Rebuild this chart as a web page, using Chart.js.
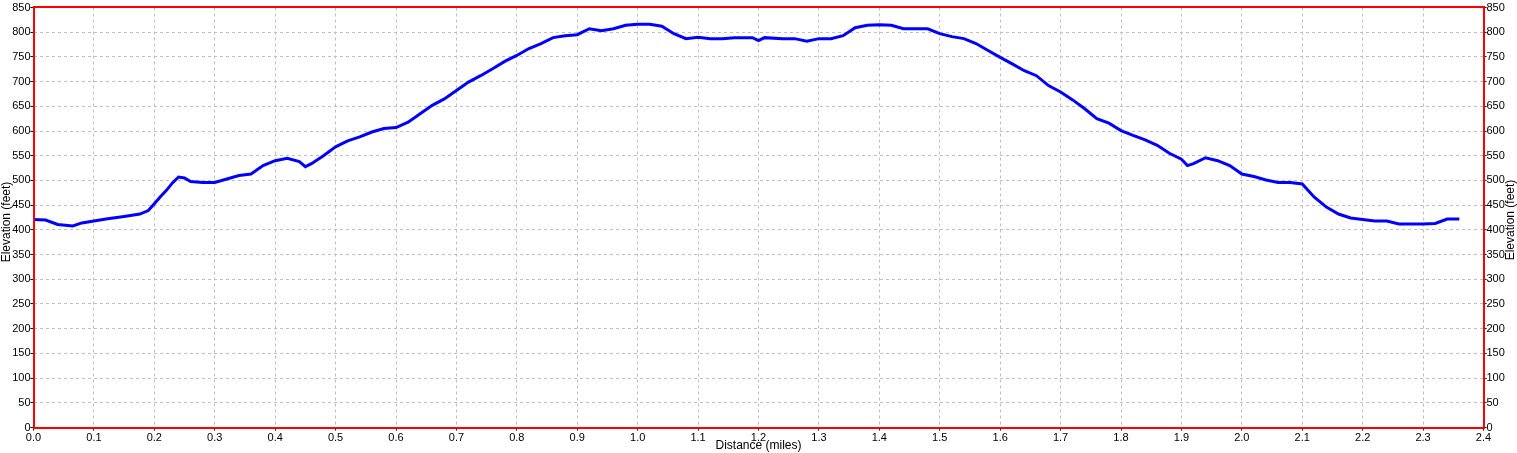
<!DOCTYPE html>
<html>
<head>
<meta charset="utf-8">
<script src="https://cdn.jsdelivr.net/npm/chart.js@4/dist/chart.umd.min.js"></script>
<style>
html,body{margin:0;padding:0;background:#fff;overflow:hidden;}
#wrap{width:1517px;height:453px;position:relative;}
</style>
</head>
<body>
<div id="wrap"><canvas id="c"></canvas></div>
<script>
const distances = [0,0.02,0.04,0.065,0.08,0.10,0.12,0.15,0.176,0.19,0.20,0.21,0.22,0.23,0.24,0.25,0.26,0.28,0.30,0.32,0.34,0.36,0.38,0.40,0.42,0.44,0.45,0.46,0.48,0.50,0.52,0.54,0.56,0.58,0.60,0.62,0.64,0.66,0.68,0.70,0.72,0.74,0.76,0.78,0.80,0.82,0.84,0.86,0.88,0.90,0.92,0.94,0.96,0.98,1.00,1.02,1.04,1.06,1.08,1.10,1.12,1.14,1.16,1.18,1.19,1.20,1.21,1.24,1.26,1.28,1.30,1.32,1.34,1.36,1.38,1.40,1.42,1.44,1.46,1.48,1.50,1.52,1.54,1.56,1.58,1.60,1.62,1.64,1.66,1.68,1.70,1.72,1.74,1.76,1.78,1.80,1.82,1.84,1.86,1.88,1.90,1.91,1.92,1.94,1.96,1.98,2.00,2.02,2.04,2.06,2.08,2.10,2.12,2.14,2.16,2.18,2.20,2.22,2.24,2.26,2.28,2.30,2.32,2.34,2.36];
const elevations = [421,420,411,408,414,418,422,427,432,439,453,467,480,495,507,505,498,496,496,503,510,513,530,540,545,538,528,534,550,568,580,588,598,605,607,618,635,652,665,682,699,712,726,741,753,767,777,789,793,795,807,803,807,814,816,816,812,797,787,790,787,787,789,789,789,783,789,787,787,782,787,787,793,809,814,815,814,807,807,807,797,791,787,777,763,749,736,722,712,692,679,663,645,625,616,601,591,582,571,555,543,530,534,546,540,530,513,508,501,496,496,493,466,446,432,424,421,418,418,412,412,412,413,422,422];
const xTickStep = 0.1, xMin = 0, xMax = 2.4;
const yTickStep = 50, yMin = 0, yMax = 850;
const xTitle = 'Distance (miles)';
const yTitle = 'Elevation (feet)';

const FONT = '"Liberation Sans", Arial, sans-serif';

const framePlugin = {
  id: 'frame',
  afterDraw(chart) {
    const {ctx, chartArea: a} = chart;
    ctx.save();
    ctx.setLineDash([]);
    ctx.strokeStyle = '#ff0000';
    ctx.lineWidth = 2;
    const l = Math.round(a.left), t = Math.floor(a.top), r = Math.round(a.right), b = Math.round(a.bottom);
    ctx.strokeRect(l, t, r - l, b - t);
    ctx.fillStyle = '#000';
    ctx.font = '12px ' + FONT;
    ctx.textAlign = 'center';
    ctx.textBaseline = 'middle';
    [[6.5, 222], [1510.5, 220]].forEach(([x, y]) => {
      ctx.save();
      ctx.translate(x, y);
      ctx.rotate(-Math.PI / 2);
      ctx.fillText(yTitle, 0, 0);
      ctx.restore();
    });
    ctx.restore();
  }
};

const tickFont = {family: FONT, size: 11};
const yScaleBase = {
  type: 'linear', min: yMin, max: yMax,
  ticks: {stepSize: yTickStep, color: '#000', font: tickFont, padding: 0},
  border: {display: false, dash: [3, 3]},
  grid: {color: '#c0c0c0', tickColor: '#000', tickLength: 3, lineWidth: 1, tickBorderDash: []}
};

new Chart(document.getElementById('c'), {
  type: 'line',
  data: {
    datasets: [{
      data: distances.map((d, i) => ({x: d, y: elevations[i]})),
      borderColor: '#0000ff',
      borderWidth: 3,
      pointRadius: 0,
      tension: 0,
      fill: false,
      borderJoinStyle: 'miter'
    }]
  },
  options: {
    responsive: true,
    maintainAspectRatio: false,
    animation: false,
    devicePixelRatio: 1,
    layout: {padding: {top: 7.5, left: 0, right: 0, bottom: 0}},
    plugins: {legend: {display: false}, tooltip: {enabled: false}},
    scales: {
      x: {
        type: 'linear', min: xMin, max: xMax,
        ticks: {stepSize: xTickStep, color: '#000', font: tickFont, padding: 1, maxRotation: 0, autoSkip: false,
          callback: v => Number(v).toFixed(1)},
        border: {display: false, dash: [3, 3]},
        grid: {color: '#c0c0c0', tickColor: '#000', tickLength: 3, lineWidth: 1, tickBorderDash: []},
        title: {display: true, text: xTitle, color: '#000', font: {family: FONT, size: 12, lineHeight: 1.2}, padding: 0},
        afterFit: s => { s.height = 25.5; }
      },
      y: Object.assign({}, yScaleBase, {
        position: 'left',
        afterFit: s => { s.width = 33.5; }
      }),
      y2: Object.assign({}, yScaleBase, {
        position: 'right',
        grid: {color: '#c0c0c0', tickColor: '#000', tickLength: 3, lineWidth: 1, drawOnChartArea: false},
        afterFit: s => { s.width = 33.5; }
      })
    }
  },
  plugins: [framePlugin]
});
</script>
</body>
</html>
